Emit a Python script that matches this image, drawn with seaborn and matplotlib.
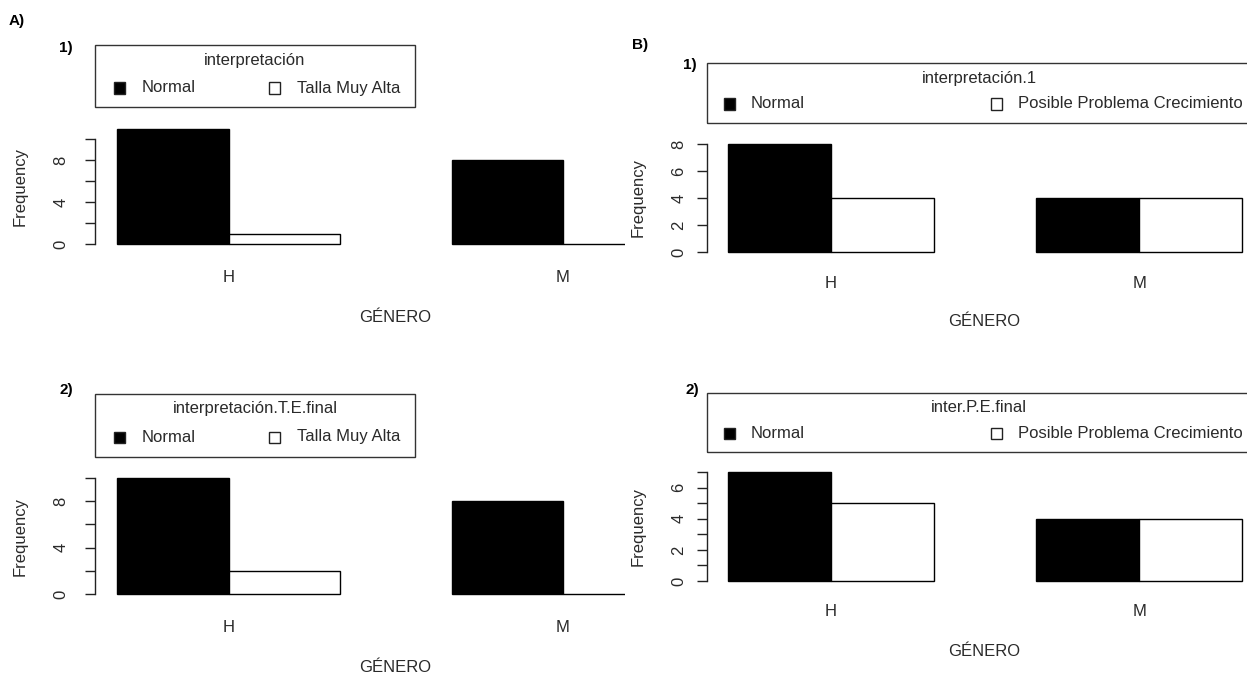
import numpy as np
import pandas as pd
import matplotlib
matplotlib.use('Agg')
import matplotlib.pyplot as plt
from matplotlib.patches import Rectangle
import seaborn as sns

# ---------------- data ----------------
generos = ['H', 'M']
a_levels = ['Normal', 'Talla Muy Alta']
b_levels = ['Normal', 'Posible Problema Crecimiento']

a1_title = 'interpretación'
a1_normal = [11, 8]
a1_alta = [1, 0]

a2_title = 'interpretación.T.E.final'
a2_normal = [10, 8]
a2_alta = [2, 0]

b1_title = 'interpretación.1'
b1_normal = [8, 4]
b1_posible = [4, 4]

b2_title = 'inter.P.E.final'
b2_normal = [7, 4]
b2_posible = [5, 4]

a_yticks = [0, 2, 4, 6, 8, 10]
a_yticklabels = ['0', '', '4', '', '8', '']
b1_yticks = [0, 2, 4, 6, 8]
b1_yticklabels = ['0', '2', '4', '6', '8']
b2_yticks = [0, 1, 2, 3, 4, 5, 6, 7]
b2_yticklabels = ['0', '', '2', '', '4', '', '6', '']

x_label = 'GÉNERO'
y_label = 'Frequency'
panel_letters = ['A)', 'B)']
panel_numbers = ['1)', '2)']

# ---------------- style ----------------
sns.set_theme(style='white')
plt.rcParams['font.family'] = ['Liberation Sans', 'DejaVu Sans']
TXT = '#2a2a2a'
FS = 12

W, H = 1247, 680
fig = plt.figure(figsize=(W / 100, H / 100), dpi=100)
fig.patch.set_facecolor('white')


def fx(p):
    return p / W


def fy(p):
    return 1 - p / H


def make_panel(levels, first, second, title, yticks, yticklabels, lay):
    df = pd.DataFrame({
        x_label: generos * 2,
        'interp': [levels[0]] * len(generos) + [levels[1]] * len(generos),
        y_label: list(first) + list(second),
    })
    pix0, yu = lay['pix0'], lay['yunit']
    vmax = max(max(first), max(second), max(yticks))
    top_px = pix0 - yu * (vmax + 0.3)
    bot_px = pix0 + 4
    left, right = lay['left'], lay['right']
    ax = fig.add_axes([fx(left), fy(bot_px), (right - left) / W, (bot_px - top_px) / H])
    sns.barplot(data=df, x=x_label, y=y_label, hue='interp', order=generos,
                hue_order=levels, palette=['black', 'white'], saturation=1,
                edgecolor='black', linewidth=1.0, width=2 / 3, legend=False, ax=ax)
    # x mapping (R-like barplot positions)
    def s_of(p):
        r = 1 + (p - lay['xr1']) / lay['xunit']
        return (r - 2) / 3
    ax.set_xlim(s_of(left), s_of(right))
    ax.set_ylim(-(bot_px - pix0) / yu, (pix0 - top_px) / yu)
    ax.set_facecolor('none')
    for sp in ['top', 'right', 'bottom']:
        ax.spines[sp].set_visible(False)
    ax.spines['left'].set_color('#222222')
    ax.spines['left'].set_linewidth(1.0)
    ax.spines['left'].set_bounds(min(yticks), max(yticks))
    ax.set_yticks(yticks)
    ax.set_yticklabels(yticklabels)
    ticklen_px = 10
    ax.tick_params(axis='y', left=True, length=ticklen_px * 0.72, width=1.0,
                   color='#222222', direction='out',
                   pad=(left - lay['tick_x'] - ticklen_px) * 0.72,
                   labelsize=FS, labelcolor=TXT, labelrotation=90)
    for t in ax.get_yticklabels():
        t.set_ha('center')
        t.set_va('center')
    ax.set_xticks(range(len(generos)))
    ax.set_xticklabels(generos)
    ax.tick_params(axis='x', bottom=False, length=0,
                   pad=(lay['xlab_y'] - bot_px) * 0.72, labelsize=FS, labelcolor=TXT)
    for t in ax.get_xticklabels():
        t.set_va('center')
    ax.set_xlabel(x_label, fontsize=FS, color=TXT)
    ax.xaxis.label.set_va('center')
    ax.xaxis.set_label_coords(fx(lay['glab'][0]), fy(lay['glab'][1]), transform=fig.transFigure)
    ax.set_ylabel(y_label, fontsize=FS, color=TXT)
    ax.yaxis.label.set_va('center')
    ax.yaxis.label.set_ha('center')
    ax.yaxis.set_label_coords(fx(lay['ylab'][0]), fy(lay['ylab'][1]), transform=fig.transFigure)
    ax.grid(False)

    # legend box (R style)
    x0, y0, x1, y1 = lay['lbox']
    fig.add_artist(Rectangle((fx(x0), fy(y1)), (x1 - x0) / W, (y1 - y0) / H,
                             transform=fig.transFigure, fill=False,
                             edgecolor='#333333', linewidth=1.0))
    fig.text(fx((x0 + x1) / 2), fy(lay['title_y']), title, ha='center', va='center',
             fontsize=FS, color=TXT)
    sq = 11
    for cx, tx, lab, fc in [(lay['sq1'], lay['txt1'], levels[0], 'black'),
                            (lay['sq2'], lay['txt2'], levels[1], 'white')]:
        ey = lay['entry_y']
        fig.add_artist(Rectangle((fx(cx - sq / 2), fy(ey + sq / 2)), sq / W, sq / H,
                                 transform=fig.transFigure, facecolor=fc,
                                 edgecolor='#222222', linewidth=1.0))
        fig.text(fx(tx), fy(ey), lab, ha='left', va='center', fontsize=FS, color=TXT)
    fig.text(fx(lay['num'][0]), fy(lay['num'][1]), lay['num_text'], ha='center',
             va='center', fontsize=11, fontweight='bold', color='black')
    return ax


lay_a1 = dict(left=95, right=625, xr1=117, xunit=111.5, pix0=244, yunit=10.5,
              tick_x=61, xlab_y=277, glab=(395, 318), ylab=(20, 187),
              lbox=(95, 45, 415, 107), title_y=61, entry_y=88,
              sq1=119, txt1=142, sq2=274, txt2=297, num=(66, 48), num_text=panel_numbers[0])
lay_a2 = dict(left=95, right=625, xr1=117, xunit=111.5, pix0=594, yunit=11.6,
              tick_x=61, xlab_y=627, glab=(395, 668), ylab=(20, 537),
              lbox=(95, 394, 415, 457), title_y=409, entry_y=437,
              sq1=119, txt1=142, sq2=274, txt2=297, num=(66, 390), num_text=panel_numbers[1])
lay_b1 = dict(left=707, right=1247, xr1=728, xunit=102.8, pix0=252, yunit=13.5,
              tick_x=679, xlab_y=283, glab=(984, 322), ylab=(638, 197),
              lbox=(707, 63, 1251, 123), title_y=79, entry_y=104,
              sq1=729, txt1=751, sq2=996, txt2=1018, num=(690, 65), num_text=panel_numbers[0])
lay_b2 = dict(left=707, right=1247, xr1=728, xunit=102.8, pix0=581, yunit=15.57,
              tick_x=679, xlab_y=612, glab=(984, 652), ylab=(638, 527),
              lbox=(707, 393, 1251, 452), title_y=407, entry_y=433,
              sq1=729, txt1=751, sq2=996, txt2=1018, num=(692, 390), num_text=panel_numbers[1])

make_panel(a_levels, a1_normal, a1_alta, a1_title, a_yticks, a_yticklabels, lay_a1)
make_panel(a_levels, a2_normal, a2_alta, a2_title, a_yticks, a_yticklabels, lay_a2)
make_panel(b_levels, b1_normal, b1_posible, b1_title, b1_yticks, b1_yticklabels, lay_b1)
make_panel(b_levels, b2_normal, b2_posible, b2_title, b2_yticks, b2_yticklabels, lay_b2)

fig.text(fx(17), fy(21), panel_letters[0], ha='center', va='center', fontsize=11,
         fontweight='bold', color='black')
fig.text(fx(640), fy(45), panel_letters[1], ha='center', va='center', fontsize=11,
         fontweight='bold', color='black')

fig.savefig('out.png', dpi=100, facecolor='white')
